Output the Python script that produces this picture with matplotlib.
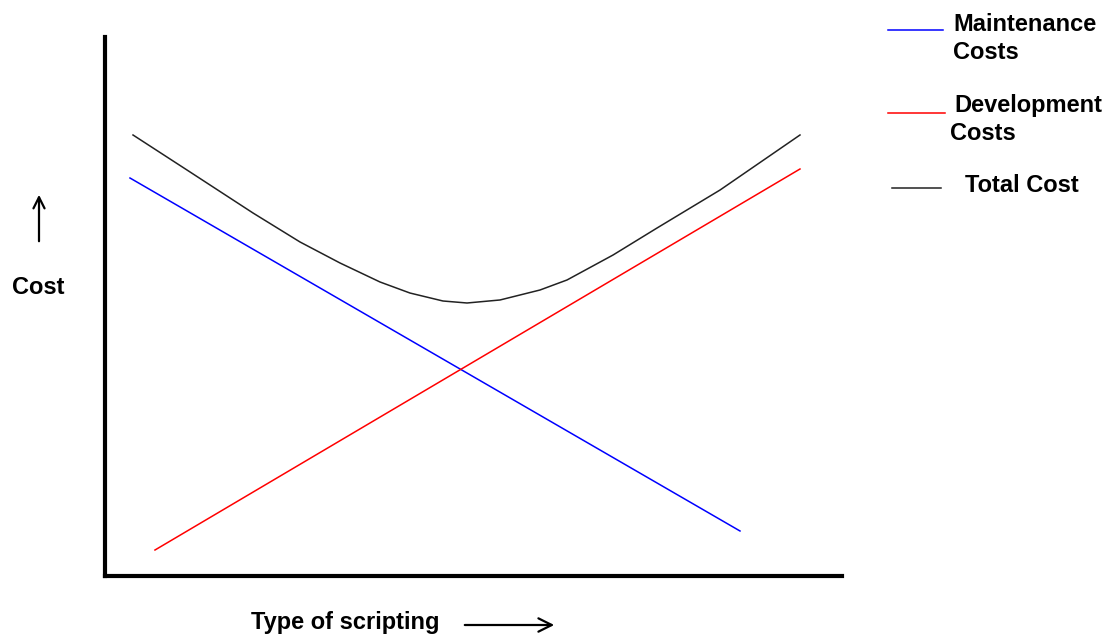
import matplotlib
matplotlib.use("Agg")
import matplotlib.pyplot as plt
from matplotlib.patches import FancyArrowPatch

# Data (arbitrary units, 0-100 on both axes)
maint_x = [3.39, 86.16]
maint_y = [73.84, 8.35]
dev_x = [6.78, 94.30]
dev_y = [4.82, 75.51]
total_x = [3.80, 11.13, 20.08, 26.46, 31.89, 37.31, 41.38, 45.86, 49.12,
           53.60, 59.02, 62.69, 68.93, 74.90, 83.45, 94.30]
total_y = [81.82, 75.32, 67.35, 61.97, 58.07, 54.55, 52.50, 51.02, 50.65,
           51.21, 53.06, 54.92, 59.55, 64.56, 71.61, 81.82]

W, H = 1111, 634
fig = plt.figure(figsize=(W / 100, H / 100), dpi=100)
fig.patch.set_facecolor("white")

ax = fig.add_axes([105 / W, (H - 576) / H, (842 - 105) / W, (576 - 37) / H])
ax.set_xlim(0, 100)
ax.set_ylim(0, 100)
for s in ["top", "right"]:
    ax.spines[s].set_visible(False)
for s in ["left", "bottom"]:
    ax.spines[s].set_linewidth(3)
    ax.spines[s].set_color("black")
ax.set_xticks([])
ax.set_yticks([])

ax.plot(maint_x, maint_y, color="#0000ff", lw=1.1)
ax.plot(dev_x, dev_y, color="#ff0000", lw=1.1)
ax.plot(total_x, total_y, color="#222222", lw=1.1, solid_joinstyle="round")

font = dict(family=["Liberation Sans", "DejaVu Sans"], weight="bold", size=17)

def ftxt(x, y, s, **kw):
    fig.text(x / W, 1 - y / H, s, va="baseline", ha="left", **font, **kw)

def fline(x0, x1, y, color):
    fig.add_artist(plt.Line2D([x0 / W, x1 / W], [1 - y / H, 1 - y / H],
                              transform=fig.transFigure, color=color, lw=1.1))

# Legend-like annotations
fline(888, 943, 30, "#0000ff")
ftxt(953, 31, "Maintenance")
ftxt(953, 59, "Costs")
fline(888, 945, 113, "#ff0000")
ftxt(954, 112, "Development")
ftxt(950, 140, "Costs")
fline(892, 941, 188, "#222222")
ftxt(965, 192, "Total Cost")

# Axis labels
ftxt(12, 294, "Cost")
ftxt(251, 629, "Type of scripting")

# Arrows
fig.add_artist(FancyArrowPatch(
    (39 / W, 1 - 244 / H), (39 / W, 1 - 192 / H), transform=fig.transFigure,
    arrowstyle="->,head_length=5,head_width=2.5", color="black", lw=1.6, mutation_scale=1.6))
fig.add_artist(FancyArrowPatch(
    (462 / W, 1 - 625 / H), (557 / W, 1 - 625 / H), transform=fig.transFigure,
    arrowstyle="->,head_length=6,head_width=3", color="black", lw=1.6, mutation_scale=1.6))

fig.savefig("out.png", dpi=100, facecolor="white")
